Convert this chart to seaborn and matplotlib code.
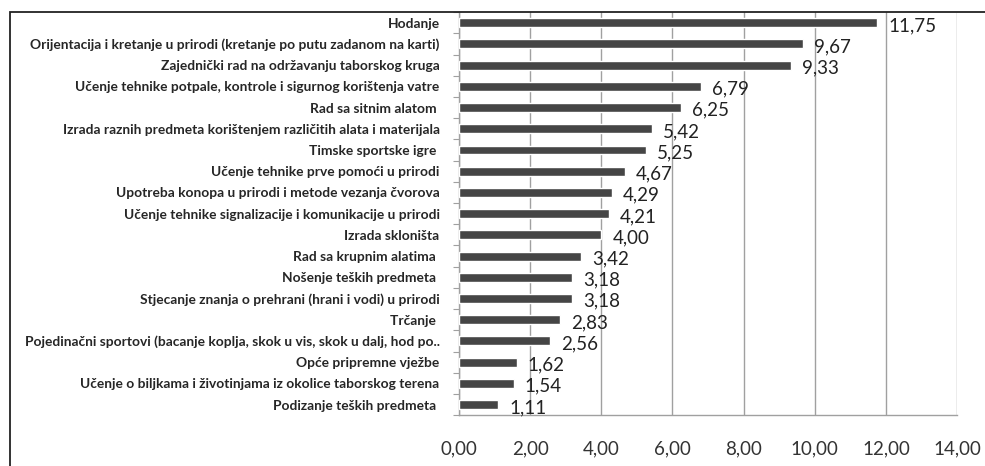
import numpy as np
import pandas as pd
import seaborn as sns
import matplotlib.pyplot as plt
from matplotlib.patches import Rectangle

# activities and their mean scores
activities = [
    "Hodanje",
    "Orijentacija i kretanje u prirodi (kretanje po putu zadanom na karti)",
    "Zajednički rad na održavanju taborskog kruga",
    "Učenje tehnike potpale, kontrole i sigurnog korištenja vatre",
    "Rad sa sitnim alatom ",
    "Izrada raznih predmeta korištenjem različitih alata i materijala",
    "Timske sportske igre ",
    "Učenje tehnike prve pomoći u prirodi",
    "Upotreba konopa u prirodi i metode vezanja čvorova",
    "Učenje tehnike signalizacije i komunikacije u prirodi",
    "Izrada skloništa",
    "Rad sa krupnim alatima ",
    "Nošenje teških predmeta ",
    "Stjecanje znanja o prehrani (hrani i vodi) u prirodi",
    "Trčanje ",
    "Pojedinačni sportovi (bacanje koplja, skok u vis, skok u dalj, hod po..",
    "Opće pripremne vježbe",
    "Učenje o biljkama i životinjama iz okolice taborskog terena",
    "Podizanje teških predmeta ",
]
scores = [11.75, 9.67, 9.33, 6.79, 6.25, 5.42, 5.25, 4.67, 4.29, 4.21,
          4.00, 3.42, 3.18, 3.18, 2.83, 2.56, 1.62, 1.54, 1.11]
xticks = [0, 2, 4, 6, 8, 10, 12, 14]

df = pd.DataFrame({"aktivnost": activities, "prosjek": scores})

sns.set_style("white")
plt.rcParams['font.family'] = ['Lato', 'DejaVu Sans']

fig = plt.figure(figsize=(9.85, 4.66), dpi=100)
ax = fig.add_axes([0.466, 0.109, 0.5056, 0.865])

sns.barplot(data=df, x="prosjek", y="aktivnost", orient="h",
            color="#454545", saturation=1, width=0.42, ax=ax, zorder=3)

ax.set_xlim(0, 14)
ax.set_ylim(len(activities) - 0.5, -0.5)
ax.set_xticks(xticks)
ax.set_xticklabels([f"{v:.2f}".replace(".", ",") for v in xticks],
                   fontsize=13.5, color="#333333")
ax.set_xlabel("")
ax.set_ylabel("")
ax.tick_params(axis="y", length=0, pad=14, labelsize=9.9, labelcolor="#262626")
for lbl in ax.get_yticklabels():
    lbl.set_fontweight("bold")
ax.tick_params(axis="x", length=6, width=1, color="#a0a0a0", pad=12, direction="out")
ax.set_yticks(np.arange(len(activities) + 1) - 0.5, minor=True)
ax.tick_params(axis="y", which="minor", length=4, width=0.8, color="#a0a0a0", left=True)
ax.xaxis.grid(True, color="#a0a0a0", linewidth=1, zorder=0)
ax.set_axisbelow(True)

for side in ["top", "right"]:
    ax.spines[side].set_visible(False)
for side in ["left", "bottom"]:
    ax.spines[side].set_color("#a0a0a0")
    ax.spines[side].set_linewidth(1)

for y, v in enumerate(scores):
    ax.annotate(f"{v:.2f}".replace(".", ","), xy=(v, y), xytext=(8, -2),
                textcoords="offset points", va="center", ha="left",
                fontsize=13.5, color="#222222")

# outer chart frame
fig.patches.append(Rectangle((0.0102, -0.01), 1.0, 0.984, transform=fig.transFigure,
                             fill=False, edgecolor="#222222", linewidth=1.3))

fig.savefig("out.png", dpi=100)
